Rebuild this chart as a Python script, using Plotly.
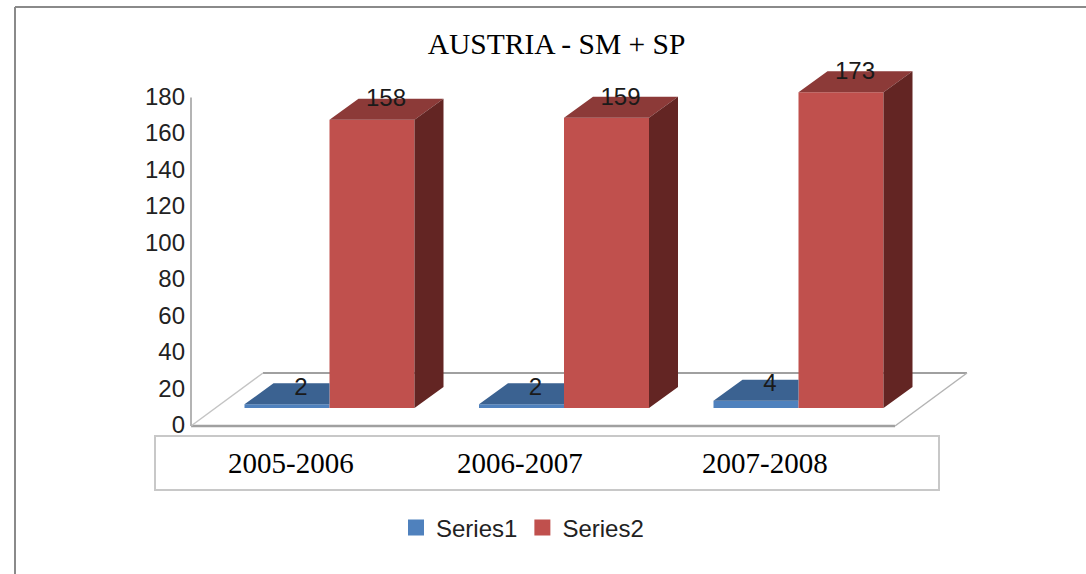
import plotly.graph_objects as go

categories = ["2005-2006", "2006-2007", "2007-2008"]
series1 = [2, 2, 4]
series2 = [158, 159, 173]
y_ticks = [0, 20, 40, 60, 80, 100, 120, 140, 160, 180]

W, H = 1086, 574
BLUE, BLUE_TOP = "#4F81BD", "#3B6291"
RED, RED_TOP, RED_SIDE = "#C0504D", "#8C3A38", "#632523"
GREY = "#A6A6A6"

def fx(p): return p / W
def fy(p): return 1 - p / H

PX_PER_CAT = 234.5
PX_PER_UNIT = 1.825
BAR_W = 85 / PX_PER_CAT
DEPTH_X = 29 / PX_PER_CAT
DEPTH_Y = 21 / PX_PER_UNIT

DOM_L, DOM_R, DOM_T, DOM_B = 191, 985, 50, 426
FIRST_GROUP_PX = 329.5
x_range = [(DOM_L - FIRST_GROUP_PX) / PX_PER_CAT, (DOM_R - FIRST_GROUP_PX) / PX_PER_CAT]
y_top = (DOM_B - DOM_T) / PX_PER_UNIT
FLOOR_SHIFT = 18 / PX_PER_UNIT
idx = list(range(len(categories)))

def polys(items):
    xs, ys = [], []
    for p in items:
        xs += [q[0] for q in p] + [p[0][0], None]
        ys += [q[1] for q in p] + [p[0][1], None]
    return xs, ys

fig = go.Figure()
common = dict(xaxis="x", yaxis="y2", showlegend=False, hoverinfo="skip")

fig.add_bar(x=idx, y=series1, marker=dict(color=BLUE, line_width=0), width=BAR_W,
            offset=-BAR_W, name="Series1", legendgroup="a", **common)
fig.add_bar(x=idx, y=series2, marker=dict(color=RED, line_width=0), width=BAR_W,
            offset=0, name="Series2", legendgroup="b", **common)

# receding faces, derived from the values
bx, by = polys([[(i - BAR_W, v), (i - BAR_W + DEPTH_X, v + DEPTH_Y), (i, v + DEPTH_Y), (i, v)]
                for i, v in zip(idx, series1)])
fig.add_scatter(x=bx, y=by, mode="lines", fill="toself", fillcolor=BLUE_TOP, line=dict(width=0), **common)
tx, ty = polys([[(i, v), (i + DEPTH_X, v + DEPTH_Y), (i + BAR_W + DEPTH_X, v + DEPTH_Y), (i + BAR_W, v)]
                for i, v in zip(idx, series2)])
fig.add_scatter(x=tx, y=ty, mode="lines", fill="toself", fillcolor=RED_TOP, line=dict(width=0), **common)
sx, sy = polys([[(i + BAR_W, 0), (i + BAR_W + DEPTH_X, DEPTH_Y), (i + BAR_W + DEPTH_X, v + DEPTH_Y), (i + BAR_W, v)]
                for i, v in zip(idx, series2)])
fig.add_scatter(x=sx, y=sy, mode="lines", fill="toself", fillcolor=RED_SIDE, line=dict(width=0), **common)

# data labels
label_font = dict(family="Liberation Sans", size=24, color="#1a1a1a")
fig.add_scatter(x=[i - BAR_W / 2 + 14 / PX_PER_CAT for i in idx], y=[v + 8.5 for v in series1],
                mode="text", text=[str(v) for v in series1], textposition="middle center",
                textfont=label_font, **common)
fig.add_scatter(x=[i + BAR_W / 2 + 14 / PX_PER_CAT for i in idx], y=[v + 10.5 for v in series2],
                mode="text", text=[str(v) for v in series2], textposition="middle center",
                textfont=label_font, **common)

# legend entries
for name, color, grp in [("Series1", BLUE, "a"), ("Series2", RED, "b")]:
    fig.add_scatter(x=[None], y=[None], mode="markers", name=name, legendgroup=grp,
                    marker=dict(symbol="square", size=16, color=color), xaxis="x", yaxis="y2")

def pline(x0, y0, x1, y1, color=GREY, width=2, dash="solid"):
    return dict(type="line", xref="paper", yref="paper", x0=fx(x0), y0=fy(y0), x1=fx(x1), y1=fy(y1),
                line=dict(color=color, width=width, dash=dash), layer="below")

shapes = [
    pline(15, 7, W, 7, "#8A8A8A", 2),
    pline(15, 7, 15, H, "#8A8A8A", 2),
    pline(263, 373, 967, 373, "#A0A0A0", 2),
    pline(191, 426, 895, 426, "#A0A0A0", 2.5),
    pline(191, 426, 263, 373, "#C4C4C4", 1.5),
    pline(895, 426, 967, 373, "#B4B4B4", 1.5),
    dict(type="line", xref="paper", yref="y", x0=fx(191), x1=fx(191), y0=0, y1=180,
         line=dict(color="#B4B4B4", width=2), layer="below"),
    dict(type="rect", xref="paper", yref="paper", x0=fx(155), x1=fx(939), y0=fy(436), y1=fy(490),
         line=dict(color="#C8C8C8", width=2), fillcolor="white", layer="below"),
]

serif = dict(family="Liberation Serif", size=29, color="black")
annotations = [
    dict(text=t, x=fx(p), y=fy(463), xref="paper", yref="paper", showarrow=False, font=serif,
         xanchor="center", yanchor="middle")
    for t, p in zip(categories, [291, 520, 765])
]

fig.update_layout(
    width=W, height=H, autosize=False,
    margin=dict(l=0, r=0, t=0, b=0, autoexpand=False),
    paper_bgcolor="white", plot_bgcolor="rgba(0,0,0,0)",
    barmode="overlay",
    title=dict(text="AUSTRIA - SM + SP", x=fx(556.5), y=fy(44), xanchor="center", yanchor="middle",
               xref="paper", yref="paper", font=dict(family="Liberation Serif", size=29.5, color="black")),
    xaxis=dict(domain=[fx(DOM_L), fx(DOM_R)], range=x_range, visible=False),
    yaxis=dict(domain=[fy(DOM_B), fy(DOM_T)], range=[0, y_top], tickvals=y_ticks, showgrid=False,
               zeroline=False, showline=False, ticks="", ticklabelstandoff=5, ticklabelshift=-1,
               tickfont=dict(family="Liberation Sans", size=24, color="#222222")),
    yaxis2=dict(domain=[fy(DOM_B), fy(DOM_T)], overlaying="y", anchor="x",
                range=[-FLOOR_SHIFT, y_top - FLOOR_SHIFT], visible=False),
    showlegend=True,
    legend=dict(orientation="h", x=fx(396), y=fy(528), xanchor="left", yanchor="middle",
                font=dict(family="Liberation Sans", size=24, color="#222222"),
                bgcolor="rgba(0,0,0,0)"),
    shapes=shapes, annotations=annotations,
)
fig.add_scatter(x=[None], y=[None], yaxis="y", xaxis="x", showlegend=False, hoverinfo="skip")

fig.write_html("out.html", post_script="document.body.style.margin='0';",
               config={"displayModeBar": False})
